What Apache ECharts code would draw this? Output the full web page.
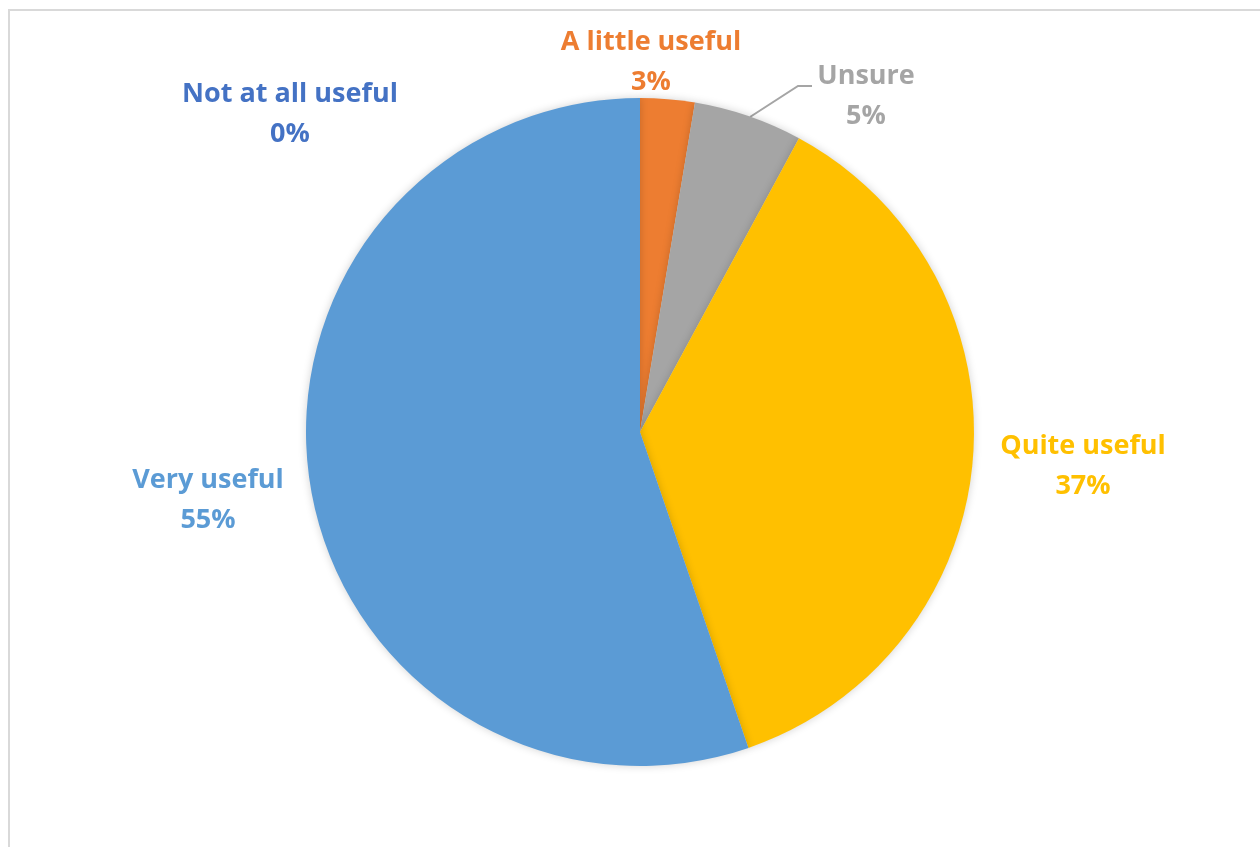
<!DOCTYPE html>
<html>
<head>
<meta charset="utf-8">
<script src="https://cdn.jsdelivr.net/npm/echarts@6/dist/echarts.min.js"></script>
<style>
  html, body { margin: 0; padding: 0; background: #fff; }
  #chart { width: 1260px; height: 847px; }
</style>
</head>
<body>
<div id="chart"></div>
<script>
// answers (respondent counts) - shown as rounded percentages
var categories = ['Not at all useful', 'A little useful', 'Unsure', 'Quite useful', 'Very useful'];
var counts = [0, 1, 2, 14, 21];
var sliceColors = ['#4472C4', '#ED7D31', '#A5A5A5', '#FFC000', '#5B9BD5'];

// where each label block sits (centre of the two lines)
var labelPos = [[290, 114], [651, 62], [866, 96], [1083, 466], [208, 500]];

var myChart = echarts.init(document.getElementById('chart'));

var pieData = [];
for (var i = 0; i < categories.length; i++) {
	pieData.push({
		name: categories[i],
		value: counts[i],
		itemStyle: { color: sliceColors[i] },
		label: { color: sliceColors[i] },
		labelLine: { show: i == 2 }
	});
}

var option = {
	backgroundColor: '#fff',
	animation: false,
	graphic: [{
		type: 'rect',
		shape: { x: 9, y: 10, width: 1270, height: 900 },
		style: { fill: 'none', stroke: '#d9d9d9', lineWidth: 2 },
		silent: true
	}],
	series: [{
		name: 'usefulness',
		type: 'pie',
		center: [640, 432],
		radius: 334,
		startAngle: 90,
		clockwise: true,
		percentPrecision: 0,
		avoidLabelOverlap: false,
		itemStyle: {
			borderWidth: 0,
			shadowBlur: 8,
			shadowColor: 'rgba(0,0,0,0.18)'
		},
		label: {
			show: true,
			position: 'outside',
			formatter: '{b}\n{d}%',
			fontFamily: 'Open Sans',
			fontWeight: 'bold',
			fontSize: 27,
			lineHeight: 40,
			align: 'center'
		},
		labelLine: {
			lineStyle: { color: '#A5A5A5', width: 2 }
		},
		labelLayout: function (params) {
			var p = labelPos[params.dataIndex];
			var out = {
				x: p[0],
				y: p[1],
				align: 'center',
				verticalAlign: 'middle'
			};
			if (params.dataIndex == 2) {
				out.labelLinePoints = [[750, 117], [798, 86], [812, 86]];
			}
			return out;
		},
		emphasis: { disabled: true },
		data: pieData
	}]
};

myChart.setOption(option);
</script>
</body>
</html>
